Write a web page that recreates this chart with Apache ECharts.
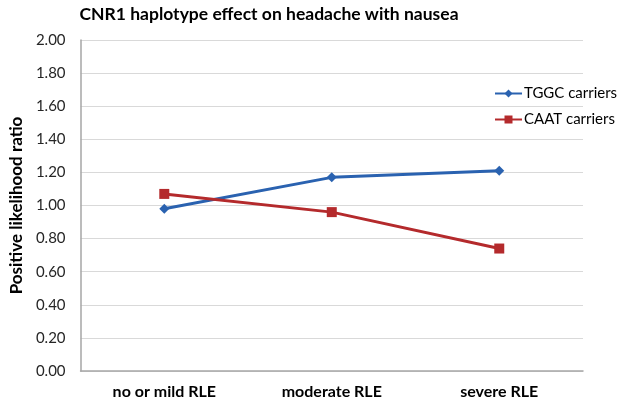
<!DOCTYPE html>
<html><head><meta charset="utf-8">
<script src="https://cdn.jsdelivr.net/npm/echarts@6/dist/echarts.min.js"></script>
<style>html,body{margin:0;padding:0;background:#fff}#c{width:618px;height:401px}</style>
</head><body><div id="c"></div>
<script>
var categories = ['no or mild RLE', 'moderate RLE', 'severe RLE'];
var tggc = [0.98, 1.17, 1.21];
var caat = [1.07, 0.96, 0.74];
var seriesNames = ['TGGC carriers', 'CAAT carriers'];
var titleText = 'CNR1 haplotype effect on headache with nausea';
var yName = 'Positive likelihood ratio';
var font = 'Lato, "Open Sans", sans-serif';
var chart = echarts.init(document.getElementById('c'), null, {renderer: 'canvas'});
chart.setOption({
  animation: false,
  backgroundColor: '#fff',
  title: {text: titleText, left: 264, top: 0, textAlign: 'center',
    textStyle: {fontFamily: font, fontWeight: 'bold', fontSize: 17.5, color: '#000'}},
  legend: {orient: 'vertical', left: 489, top: 81, itemGap: 11, itemWidth: 27, itemHeight: 10,
    textStyle: {fontFamily: font, fontSize: 15, color: '#000', padding: [0,0,0,-3]},
    data: seriesNames},
  grid: {left: 70, right: 35, top: 40, bottom: 30, containLabel: false},
  xAxis: {type: 'category', data: categories, boundaryGap: true,
    axisLine: {lineStyle: {color: '#a6a6a6', width: 1.5}}, axisTick: {show: false},
    axisLabel: {fontFamily: font, fontWeight: 'bold', fontSize: 16, color: '#000', margin: 13}},
  yAxis: {type: 'value', min: 0, max: 2, interval: 0.2,
    name: yName, nameLocation: 'middle', nameGap: 52, nameRotate: 90,
    nameTextStyle: {fontFamily: font, fontWeight: 'bold', fontSize: 17, color: '#000'},
    axisLine: {show: true, lineStyle: {color: '#a6a6a6', width: 1.5}}, axisTick: {show: false},
    axisLabel: {fontFamily: font, fontSize: 15, color: '#262626', margin: 15,
      formatter: function(v){return v.toFixed(2);}},
    splitLine: {lineStyle: {color: '#d9d9d9', width: 1}}},
  series: [
    {name: seriesNames[0], type: 'line', data: tggc, symbol: 'diamond', symbolSize: 10,
      lineStyle: {color: '#2a62b0', width: 3}, itemStyle: {color: '#2a62b0'}},
    {name: seriesNames[1], type: 'line', data: caat, symbol: 'rect', symbolSize: 10,
      lineStyle: {color: '#b42a2c', width: 3}, itemStyle: {color: '#b42a2c'}}
  ]
});
</script></body></html>
